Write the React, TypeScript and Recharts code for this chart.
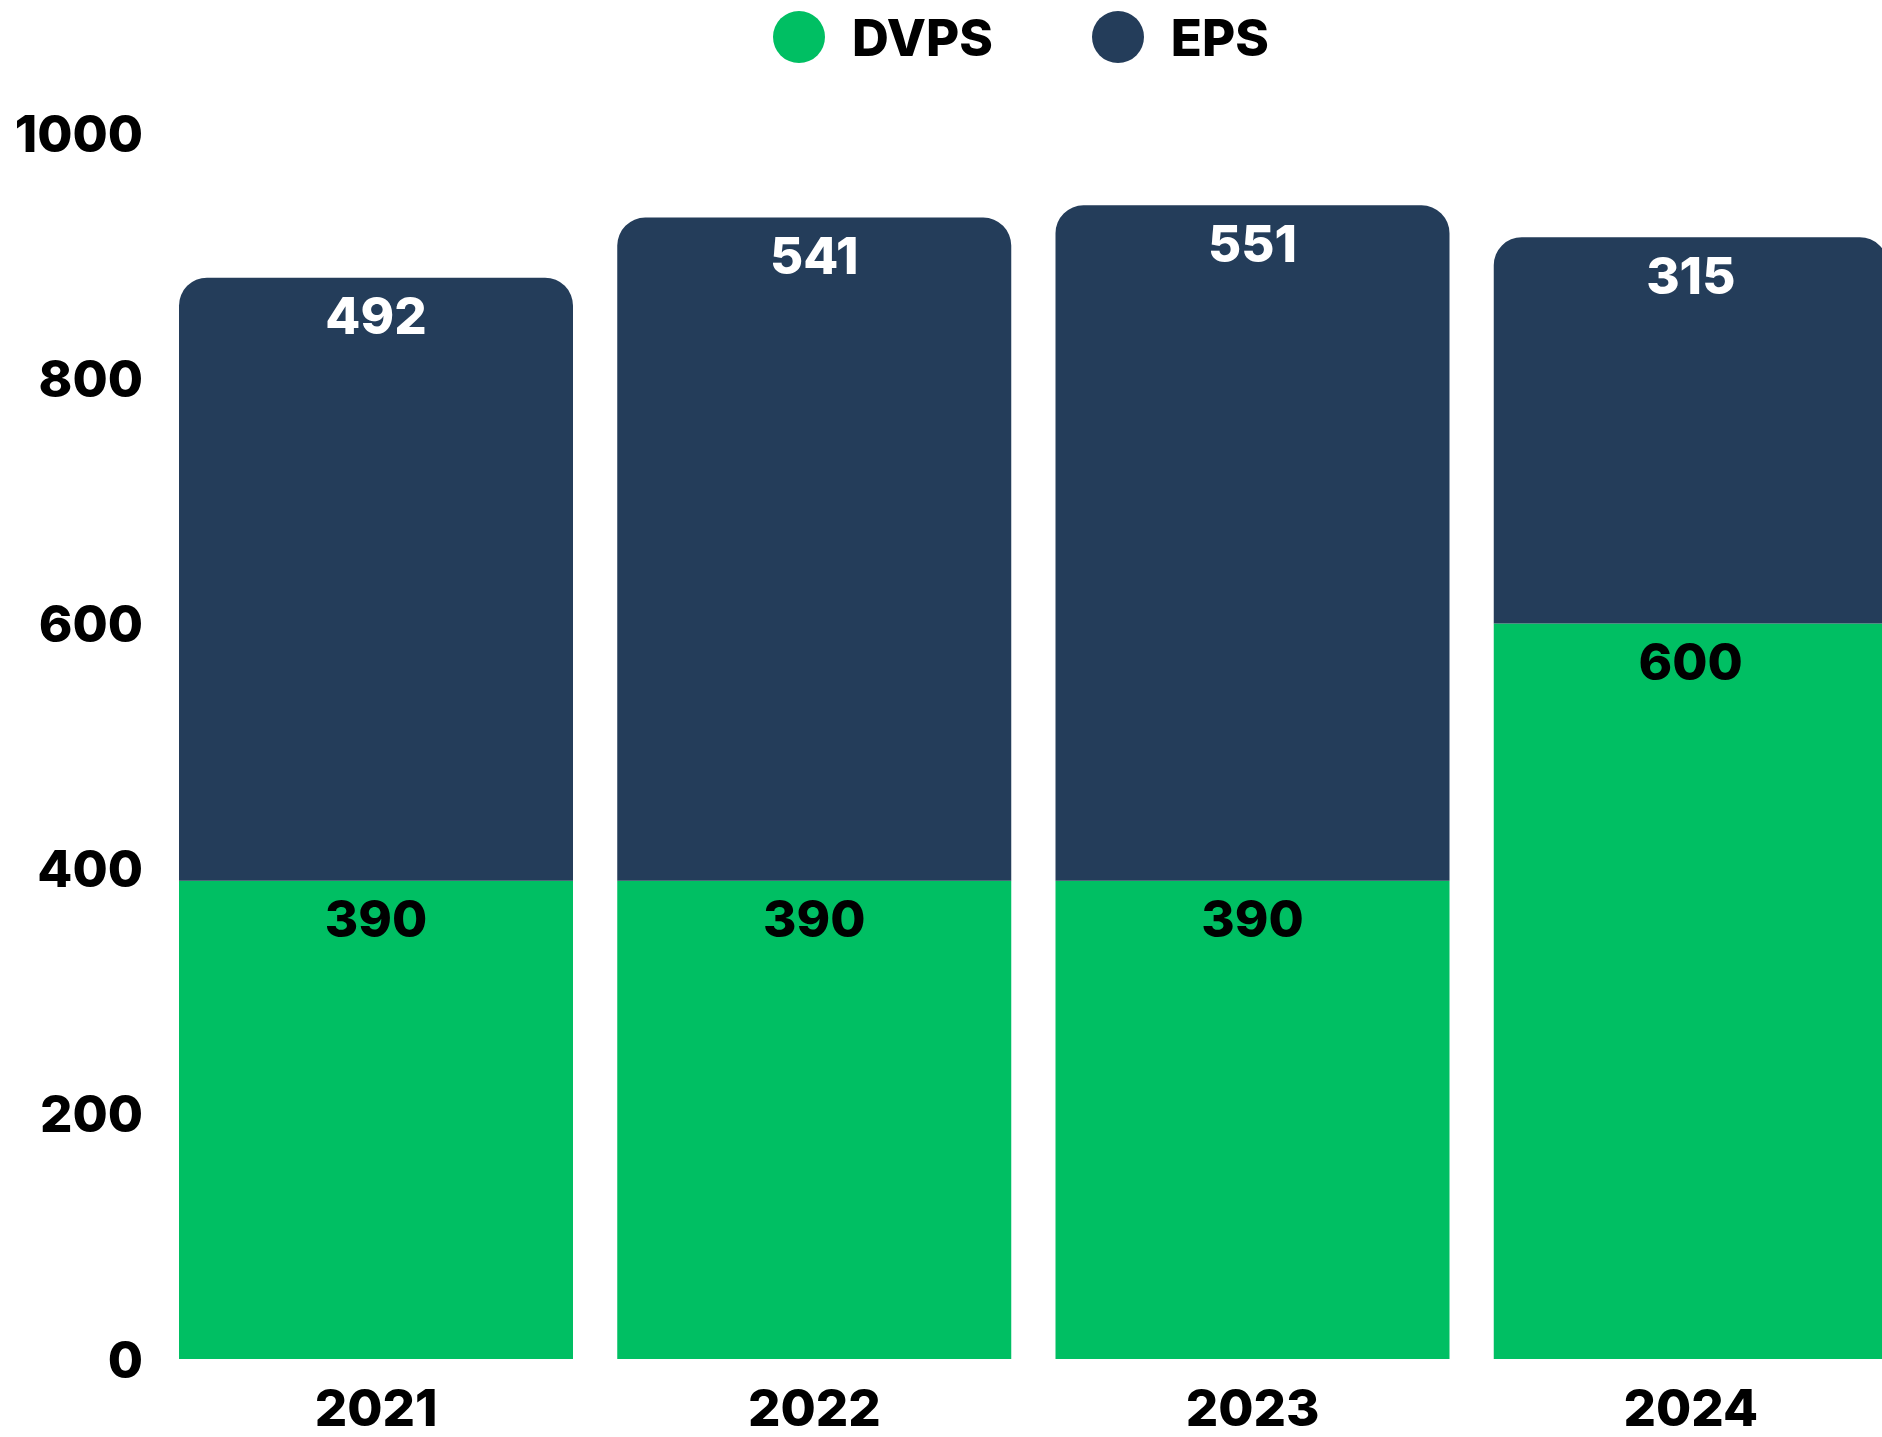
import { BarChart, Bar, XAxis, YAxis, Legend, LabelList } from 'recharts';

const years = ['2021', '2022', '2023', '2024'];
const dvps = [390, 390, 390, 600];
const eps = [492, 541, 551, 315];
const yTicks = [0, 200, 400, 600, 800, 1000];

const GREEN = '#00BF63';
const NAVY = '#243D5A';
const FONT = 'Inter, "Noto Sans", sans-serif';
const SIZE = 51;

const data = years.map((year, i) => ({ year, dvps: dvps[i], eps: eps[i] }));

const series = [
    { key: 'dvps', name: 'DVPS', color: GREEN },
    { key: 'eps', name: 'EPS', color: NAVY },
];

const YTick = ({ x, y, payload }: any) => (
    <text x={x - 6} y={y} textAnchor="end" dominantBaseline="central"
        fontFamily={FONT} fontWeight={800} fontSize={SIZE} fill="#000">
        {payload.value}
    </text>
);

const XTick = ({ x, y, payload }: any) => (
    <text x={x} y={y + 40} textAnchor="middle" dominantBaseline="central"
        fontFamily={FONT} fontWeight={800} fontSize={SIZE} fill="#000">
        {payload.value}
    </text>
);

const barLabel = (color: string) => (props: any) => {
    const { x, y, width, value } = props;
    return (
        <text x={x + width / 2} y={y + 38} textAnchor="middle" dominantBaseline="central"
            fontFamily={FONT} fontWeight={800} fontSize={SIZE} fill={color}>
            {value}
        </text>
    );
};

const LegendContent = () => (
    <div style={{ display: 'flex', alignItems: 'center', paddingLeft: 773, height: 74, fontFamily: FONT }}>
        {series.map((s, i) => (
            <div key={s.key} style={{ display: 'flex', alignItems: 'center', marginLeft: i === 0 ? 0 : 99 }}>
                <span style={{ width: 52, height: 52, borderRadius: '50%', background: s.color, display: 'inline-block' }} />
                <span style={{ marginLeft: 27, fontSize: 51, fontWeight: 800, color: '#000', lineHeight: 1 }}>{s.name}</span>
            </div>
        ))}
    </div>
);

export default function App() {
    return (
        <div style={{ width: 1882, height: 1437, overflow: 'hidden', position: 'relative', background: '#fff' }}>
            <style>{'body{margin:0}'}</style>
            <BarChart width={1910} height={1437} data={data} barCategoryGap={22}
                margin={{ top: 59, right: 0, left: 0, bottom: 0 }}>
                <Legend verticalAlign="top" content={<LegendContent />}
                    wrapperStyle={{ top: 0, left: 0, width: 1910, height: 74 }} />
                <YAxis domain={[0, 1000]} ticks={yTicks} width={157} axisLine={false} tickLine={false}
                    tick={<YTick />} interval={0} />
                <XAxis dataKey="year" height={78} axisLine={false} tickLine={false} tick={<XTick />} />
                <Bar dataKey="dvps" name="DVPS" stackId="a" fill={GREEN} isAnimationActive={false}>
                    <LabelList dataKey="dvps" content={barLabel('#000')} />
                </Bar>
                <Bar dataKey="eps" name="EPS" stackId="a" fill={NAVY} radius={[28, 28, 0, 0]} isAnimationActive={false}>
                    <LabelList dataKey="eps" content={barLabel('#fff')} />
                </Bar>
            </BarChart>
        </div>
    );
}
